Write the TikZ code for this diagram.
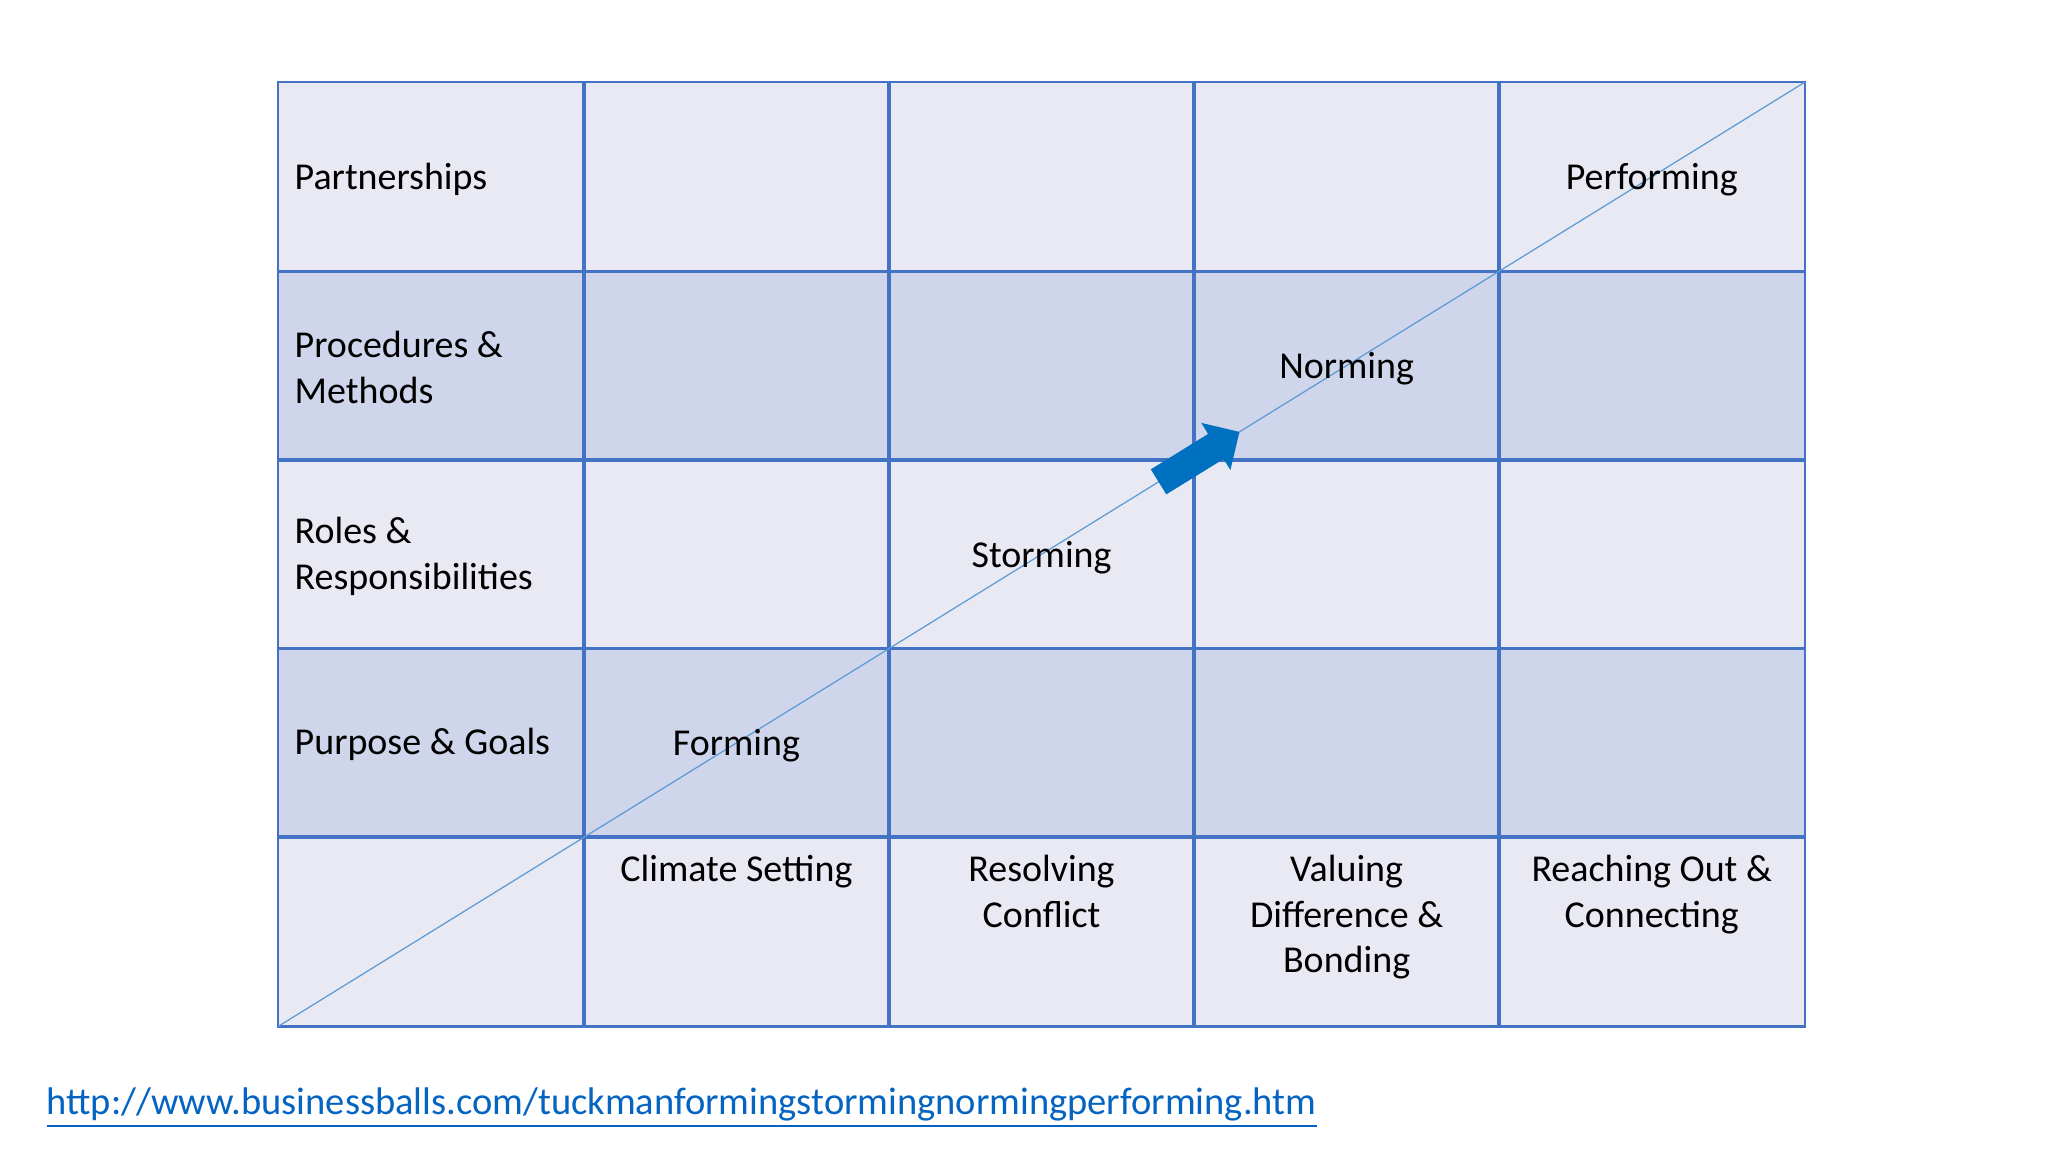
\documentclass[tikz,border=0pt]{standalone}
\usepackage{fontspec}
\setmainfont{Carlito}
\usetikzlibrary{positioning, calc, shapes.arrows}

\definecolor{gridline}{HTML}{4472C4}
\definecolor{celllight}{HTML}{E9E9F3}
\definecolor{celldark}{HTML}{CFD5EA}
\definecolor{diagline}{HTML}{5B9BD5}
\definecolor{arrowblue}{HTML}{0070C0}
\definecolor{linkblue}{HTML}{0563C1}

\begin{document}
\begin{tikzpicture}[x=0.01cm, y=-0.01cm,
	every node/.style={font=\fontsize{10.8}{13}\selectfont},
	cell/.style={minimum width=3.051cm, minimum height=1.886cm, inner sep=0, anchor=north west},
	rowlabel/.style={anchor=west, inner sep=0, align=left, yshift=-0.02cm},
	collabel/.style={anchor=north, inner sep=0, align=center},
	stage/.style={inner sep=0, yshift=-0.03cm},
	progress/.style={single arrow, fill=arrowblue, inner sep=0.14cm, minimum height=0.95cm, single arrow head extend=0.13cm, single arrow tip angle=90}]

	\useasboundingbox (0,0) rectangle (2048,1152);

	% cells
	\foreach \r/\shade in {1/celllight, 2/celldark, 3/celllight, 4/celldark, 5/celllight}
		\foreach \c in {0,...,4}
			\node [cell, fill=\shade] (c-\r-\c) at ({278+305.1*\c}, {82+188.6*(\r-1)}) {};
	\foreach \r in {1,...,5}
		\foreach \c in {0,...,4}
			\draw [gridline, line width=0.6pt] (c-\r-\c.north west) rectangle (c-\r-\c.south east);

	\draw [diagline, line width=0.35pt] (c-5-0.south west) -- (c-1-4.north east);
	\node [progress, rotate=31.7] (push) at ($(c-5-0.south west)!0.599!(c-1-4.north east)$) {};

	% row labels
	\node [rowlabel, right=0.16cm of c-1-0.west] (partner) {Partnerships};
	\node [rowlabel, right=0.16cm of c-2-0.west] (proc) {Procedures \&\\Methods};
	\node [rowlabel, right=0.16cm of c-3-0.west] (roles) {Roles \&\\Responsibilities};
	\node [rowlabel, right=0.16cm of c-4-0.west] (purpose) {Purpose \& Goals};

	% column labels
	\node [collabel, below=0.18cm of c-5-1.north] (climate) {Climate Setting};
	\node [collabel, below=0.18cm of c-5-2.north] (resolve) {Resolving\\Conflict};
	\node [collabel, below=0.18cm of c-5-3.north] (value) {Valuing\\Difference \&\\Bonding};
	\node [collabel, below=0.18cm of c-5-4.north] (reach) {Reaching Out \&\\Connecting};

	% stages
	\node [stage] (forming) at (c-4-1) {Forming};
	\node [stage] (storming) at (c-3-2) {Storming};
	\node [stage] (norming) at (c-2-3) {Norming};
	\node [stage] (performing) at (c-1-4) {Performing};

	\node [anchor=west, inner sep=0, text=linkblue, font=\fontsize{10.95}{13}\selectfont] (url) at (46,1108)
	{\underline{http://www.businessballs.com/tuckmanformingstormingnormingperforming.htm}};

\end{tikzpicture}
\end{document}
